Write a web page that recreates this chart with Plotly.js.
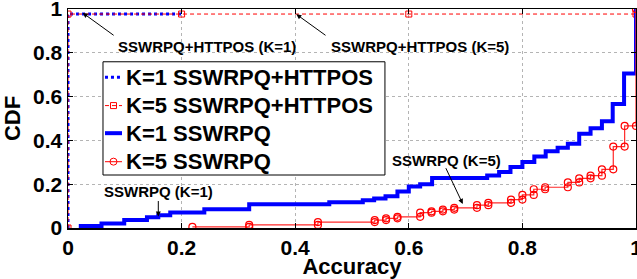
<!DOCTYPE html>
<html>
<head>
<meta charset="utf-8">
<script src="https://cdn.plot.ly/plotly-3.0.1.min.js"></script>
<style>html,body{margin:0;padding:0;background:#fff;}#chart{width:637px;height:279px;}</style>
</head>
<body>
<div id="chart"></div>
<script>
// ---- data ----
var tickVals = [0, 0.2, 0.4, 0.6, 0.8, 1];
var tickText = ["0", "0.2", "0.4", "0.6", "0.8", "1"];

var seriesNames = ["K=1 SSWRPQ+HTTPOS", "K=5 SSWRPQ+HTTPOS", "K=1 SSWRPQ", "K=5 SSWRPQ"];

// K=1 SSWRPQ+HTTPOS
var k1HttposX = [0, 0, 0.2];
var k1HttposY = [0, 0.977, 0.977];

// K=5 SSWRPQ+HTTPOS
var k5HttposX = [0, 0, 0.2, 0.6, 1];
var k5HttposY = [0, 0.977, 0.977, 0.977, 0.977];

// K=1 SSWRPQ (step positions and CDF level after each step)
var k1StepX = [0.019, 0.059, 0.099, 0.139, 0.159, 0.18, 0.24, 0.319, 0.46, 0.519, 0.539, 0.559, 0.58, 0.6, 0.62, 0.641,
               0.738, 0.759, 0.779, 0.8, 0.821, 0.841, 0.862, 0.88, 0.9, 0.92, 0.94, 0.959, 0.979, 1.0];
var k1StepY = [0.009, 0.021, 0.036, 0.049, 0.058, 0.071, 0.086, 0.108, 0.118, 0.127, 0.135, 0.145, 0.167, 0.19, 0.2, 0.228,
               0.24, 0.256, 0.279, 0.301, 0.327, 0.35, 0.366, 0.385, 0.43, 0.456, 0.487, 0.566, 0.706, 1.0];

// K=5 SSWRPQ (step positions and CDF level after each step)
var k5StepX = [0.219, 0.319, 0.44, 0.54, 0.56, 0.58, 0.62, 0.64, 0.66, 0.68, 0.72, 0.74, 0.78, 0.8, 0.82, 0.84,
               0.88, 0.9, 0.92, 0.94, 0.96, 0.98, 1.0];
var k5StepY = [0.005, 0.014, 0.027, 0.036, 0.044, 0.051, 0.07, 0.076, 0.084, 0.092, 0.104, 0.115, 0.13, 0.151, 0.177, 0.186,
               0.208, 0.227, 0.239, 0.268, 0.372, 0.466, 1.0];

// annotation texts
var annTexts = ["SSWRPQ+HTTPOS (K=1)", "SSWRPQ+HTTPOS (K=5)", "SSWRPQ (K=1)", "SSWRPQ (K=5)"];

// ---- build step corner points for the marked K=5 curve ----
var k5X = [k5StepX[0]], k5Y = [k5StepY[0]];
for (var i = 1; i < k5StepX.length; i++) {
  k5X.push(k5StepX[i]); k5Y.push(k5StepY[i - 1]);
  k5X.push(k5StepX[i]); k5Y.push(k5StepY[i]);
}

var FONT = "Liberation Sans, Arial, Helvetica, sans-serif";
var BLUE = "#0000ff", RED = "#ff0000";

var styles = [
  {line: {color: BLUE, width: 3, dash: "3px,3px"}},
  {line: {color: RED, width: 1, dash: "4px,3px"}, marker: "square"},
  {line: {color: BLUE, width: 4}},
  {line: {color: "#ff2a2a", width: 1.2}, marker: "circle"}
];

var traces = [
  {x: k1HttposX, y: k1HttposY, name: seriesNames[0], mode: "lines", showlegend: false,
   line: styles[0].line},
  {x: k5HttposX, y: k5HttposY, name: seriesNames[1], mode: "lines+markers", showlegend: false,
   line: styles[1].line,
   marker: {symbol: "square-open", size: 6, color: RED, line: {width: 1}}},
  {x: k1StepX, y: k1StepY, name: seriesNames[2], mode: "lines", showlegend: false,
   line: Object.assign({shape: "hv"}, styles[2].line)},
  {x: k5X, y: k5Y, name: seriesNames[3], mode: "lines+markers", showlegend: false,
   line: styles[3].line,
   marker: {symbol: "circle-open", size: 7, color: RED, line: {width: 1.2}}}
];

var axisCommon = {
  range: [0, 1],
  tickvals: tickVals,
  ticktext: tickText,
  ticks: "inside",
  ticklen: 5,
  tickwidth: 1,
  tickcolor: "#000",
  mirror: "allticks",
  showline: true,
  linecolor: "#000",
  linewidth: 1.5,
  showgrid: true,
  gridcolor: "#b4b4b4",
  griddash: "dot",
  gridwidth: 1,
  zeroline: false,
  ticklabeloverflow: "allow",
  tickfont: {family: FONT, size: 21, color: "#000", weight: "bold"}
};

var xaxis = Object.assign({}, axisCommon, {
  title: {text: "Accuracy", font: {family: FONT, size: 22, color: "#000", weight: "bold"}, standoff: 2}
});
var yaxis = Object.assign({}, axisCommon, {
  title: {text: "CDF", font: {family: FONT, size: 22, color: "#000", weight: "bold"}, standoff: 6}
});

function textAnn(t, x, y) {
  return {text: t, x: x, y: y, xref: "x", yref: "y", showarrow: false,
          xanchor: "center", yanchor: "middle",
          font: {family: FONT, size: 15, color: "#000", weight: "bold"}};
}
function arrowAnn(x0, y0, x1, y1) {
  return {text: "", x: x1, y: y1, ax: x0, ay: y0, xref: "x", yref: "y", axref: "x", ayref: "y",
          showarrow: true, arrowhead: 2, arrowsize: 1, arrowwidth: 1, arrowcolor: "#000"};
}

// ---- custom legend (box, samples, labels) in paper coordinates ----
var legBox = {x0: 0.0616, x1: 0.558, y0: 0.242, y1: 0.759};
var legRowsY = [0.688, 0.559, 0.433, 0.303];
var legSampleX0 = 0.0651, legSampleX1 = 0.0951, legTextX = 0.0986;

var shapes = [{type: "rect", xref: "paper", yref: "paper", x0: legBox.x0, x1: legBox.x1, y0: legBox.y0, y1: legBox.y1,
               line: {color: "#000", width: 1}, fillcolor: "#fff", layer: "above"}];
var annotations = [];
for (var r = 0; r < seriesNames.length; r++) {
  shapes.push({type: "line", xref: "paper", yref: "paper", x0: legSampleX0, x1: legSampleX1,
               y0: legRowsY[r], y1: legRowsY[r], line: styles[r].line, layer: "above"});
  if (styles[r].marker) {
    var half = styles[r].marker === "square" ? 3 : 3.5;
    shapes.push({type: styles[r].marker === "square" ? "rect" : "circle",
                 xref: "paper", yref: "paper", xsizemode: "pixel", ysizemode: "pixel",
                 xanchor: (legSampleX0 + legSampleX1) / 2, yanchor: legRowsY[r],
                 x0: -half, x1: half, y0: -half, y1: half,
                 line: {color: RED, width: 1}, fillcolor: "rgba(0,0,0,0)", layer: "above"});
  }
  annotations.push({text: seriesNames[r], xref: "paper", yref: "paper", x: legTextX, y: legRowsY[r],
                    xanchor: "left", yanchor: "middle", showarrow: false,
                    font: {family: FONT, size: 22, color: "#000", weight: "bold"}});
}

annotations = annotations.concat([
  textAnn(annTexts[0], 0.245, 0.828),
  arrowAnn(0.083, 0.875, 0.026, 0.982),
  textAnn(annTexts[1], 0.619, 0.828),
  arrowAnn(0.456, 0.875, 0.402, 0.976),
  textAnn(annTexts[2], 0.159, 0.166),
  arrowAnn(0.159, 0.13, 0.159, 0.052),
  textAnn(annTexts[3], 0.667, 0.308),
  arrowAnn(0.664, 0.28, 0.695, 0.11)
]);

var layout = {
  width: 637, height: 279,
  margin: {l: 68, r: 1, t: 9, b: 51},
  paper_bgcolor: "#fff", plot_bgcolor: "#fff",
  showlegend: false,
  xaxis: xaxis,
  yaxis: yaxis,
  shapes: shapes,
  annotations: annotations
};

Plotly.newPlot("chart", traces, layout, {displayModeBar: false, staticPlot: true});
</script>
</body>
</html>
